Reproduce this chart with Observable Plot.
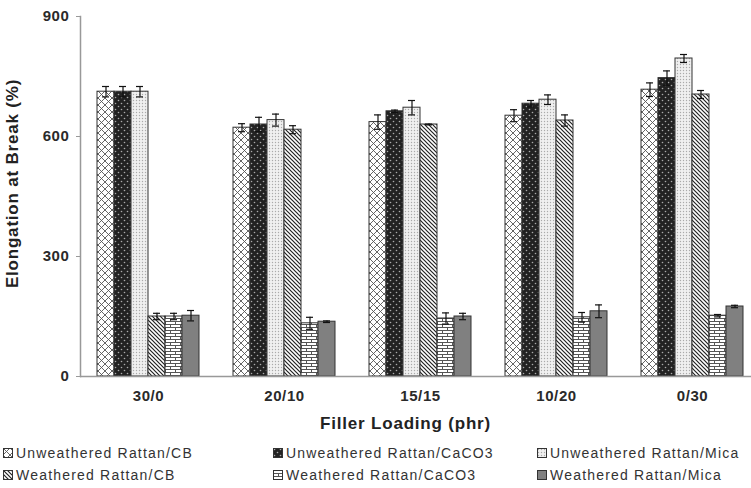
<!DOCTYPE html>
<html>
<head>
<meta charset="utf-8">
<script src="https://cdn.jsdelivr.net/npm/d3@7"></script>
<script src="https://cdn.jsdelivr.net/npm/@observablehq/plot@0.6"></script>
<style>
  html, body { margin: 0; padding: 0; background: #fff; }
  #wrap { position: relative; width: 751px; height: 488px; overflow: hidden; font-family: "Liberation Sans", Arial, sans-serif; }
  .lg { position: absolute; display: flex; align-items: center; font-size: 14px; letter-spacing: 1.2px; color: #333; white-space: nowrap; }
  .lg svg { margin-right: 3px; }
  .ttl text { letter-spacing: 0.8px; }
  g[aria-label="fx-axis tick label"] text, g[aria-label="y-axis tick label"] text { letter-spacing: 0.6px; }
</style>
</head>
<body>
<svg width="0" height="0" style="position:absolute">
  <defs>
    <pattern id="pUCB" patternUnits="userSpaceOnUse" width="7" height="7">
      <rect width="7" height="7" fill="#fff"/>
      <path d="M0,0L7,7M7,0L0,7" stroke="#555" stroke-width="0.9"/>
    </pattern>
    <pattern id="pUCa" patternUnits="userSpaceOnUse" width="6" height="6">
      <rect width="6" height="6" fill="#222"/>
      <circle cx="1.5" cy="1.5" r="0.8" fill="#aaa"/>
      <circle cx="4.5" cy="4.5" r="0.8" fill="#aaa"/>
    </pattern>
    <pattern id="pUMi" patternUnits="userSpaceOnUse" width="3" height="3">
      <rect width="3" height="3" fill="#f0f0f0"/>
      <circle cx="1.5" cy="1.5" r="0.7" fill="#aaa"/>
    </pattern>
    <pattern id="pWCB" patternUnits="userSpaceOnUse" width="4" height="4">
      <rect width="4" height="4" fill="#fff"/>
      <path d="M-1,-1L5,5M-1,3L1,5M3,-1L5,1" stroke="#222" stroke-width="1.2"/>
    </pattern>
    <pattern id="pWCa" patternUnits="userSpaceOnUse" width="10" height="6">
      <rect width="10" height="6" fill="#fff"/>
      <path d="M0,0.5H10M0,3.5H10M0.5,0.5V3.5M5.5,3.5V6.5" stroke="#555" stroke-width="1"/>
    </pattern>
    <pattern id="pWMi" patternUnits="userSpaceOnUse" width="4" height="4">
      <rect width="4" height="4" fill="#808080"/>
    </pattern>
  </defs>
</svg>
<div id="wrap"></div>
<script>
const groups = ["30/0", "20/10", "15/15", "10/20", "0/30"];
const series = ["Unweathered Rattan/CB", "Unweathered Rattan/CaCO3", "Unweathered Rattan/Mica",
                "Weathered Rattan/CB", "Weathered Rattan/CaCO3", "Weathered Rattan/Mica"];
const patterns = ["url(#pUCB)", "url(#pUCa)", "url(#pUMi)", "url(#pWCB)", "url(#pWCa)", "url(#pWMi)"];

const valUnweatheredCB    = [712, 622, 636, 652, 717];
const valUnweatheredCaCO3 = [712, 630, 663, 682, 746];
const valUnweatheredMica  = [712, 641, 672, 692, 795];
const valWeatheredCB      = [150, 617, 630, 640, 705];
const valWeatheredCaCO3   = [150, 133, 145, 148, 152];
const valWeatheredMica    = [152, 137, 150, 163, 175];

const errUnweatheredCB    = [13, 10, 18, 15, 17];
const errUnweatheredCaCO3 = [13, 18, 3, 8, 18];
const errUnweatheredMica  = [13, 15, 18, 12, 10];
const errWeatheredCB      = [8, 10, 1, 14, 10];
const errWeatheredCaCO3   = [8, 15, 14, 12, 3];
const errWeatheredMica    = [13, 2, 8, 16, 3];

const yTicks = [0, 300, 600, 900];
const yTitle = "Elongation at Break (%)";
const xTitle = "Filler Loading (phr)";

const allVals = [valUnweatheredCB, valUnweatheredCaCO3, valUnweatheredMica, valWeatheredCB, valWeatheredCaCO3, valWeatheredMica];
const allErrs = [errUnweatheredCB, errUnweatheredCaCO3, errUnweatheredMica, errWeatheredCB, errWeatheredCaCO3, errWeatheredMica];

const data = [];
series.forEach((s, si) => {
  groups.forEach((g, gi) => {
    const v = allVals[si][gi], e = allErrs[si][gi];
    data.push({group: g, series: s, value: v, lo: v - e, hi: v + e});
  });
});

const plot = Plot.plot({
  width: 751,
  height: 440,
  marginLeft: 80,
  marginRight: -9,
  marginTop: 16,
  marginBottom: 64,
  style: {fontFamily: "'Liberation Sans', Arial, sans-serif", fontWeight: "bold", color: "#333", background: "#fff"},
  fx: {domain: groups, padding: 0, label: null, axis: null},
  x: {domain: series, paddingInner: 0, paddingOuter: 0.778, axis: null},
  y: {domain: [0, 900], axis: null},
  color: {domain: series, range: patterns},
  marks: [
    Plot.barY(data, {fx: "group", x: "series", y: "value", fill: "series", stroke: "#333", strokeWidth: 1}),
    Plot.ruleX(data, {fx: "group", x: "series", y1: "lo", y2: "hi", stroke: "#111", strokeWidth: 1.2}),
    Plot.tickY(data, {fx: "group", x: "series", y: "lo", stroke: "#111", strokeWidth: 1.2, insetLeft: 5, insetRight: 5}),
    Plot.tickY(data, {fx: "group", x: "series", y: "hi", stroke: "#111", strokeWidth: 1.2, insetLeft: 5, insetRight: 5}),
    Plot.ruleY([0], {stroke: "#999", strokeWidth: 1.5}),
    Plot.axisFx({anchor: "bottom", tickSize: 0, tickPadding: 14, fontSize: 15, label: null, fill: "#2a2a2a"}),
    Plot.frame({anchor: "left", facetAnchor: "left", stroke: "#999", strokeWidth: 1.5}),
    Plot.axisY({ticks: yTicks, tickSize: 4, tickPadding: 7, fontSize: 15, label: null, stroke: "#999", fill: "#2a2a2a"}),
    Plot.text([yTitle], {facet: "super", frameAnchor: "left", rotate: -90, dx: -68, dy: -13, fontSize: 17, textAnchor: "middle", lineAnchor: "middle", fill: "#222", className: "ttl", text: d => d}),
    Plot.text([xTitle], {facet: "super", frameAnchor: "bottom", dx: -15, dy: 47, fontSize: 17, textAnchor: "middle", lineAnchor: "middle", fill: "#222", className: "ttl", text: d => d})
  ]
});

const wrap = document.getElementById("wrap");
plot.style.position = "absolute";
plot.style.left = "0px";
plot.style.top = "0px";
wrap.appendChild(plot);

const colX = [3, 273, 537];
const rowY = [453, 475];
series.forEach((s, i) => {
  const col = i % 3, row = Math.floor(i / 3);
  const div = document.createElement("div");
  div.className = "lg";
  div.style.left = colX[col] + "px";
  div.style.top = (rowY[row] - 9) + "px";
  div.style.height = "18px";
  div.innerHTML = `<svg width="10" height="10"><rect x="0.5" y="0.5" width="9" height="9" fill="${patterns[i]}" stroke="#333" stroke-width="1"/></svg><span>${s}</span>`;
  wrap.appendChild(div);
});
</script>
</body>
</html>
